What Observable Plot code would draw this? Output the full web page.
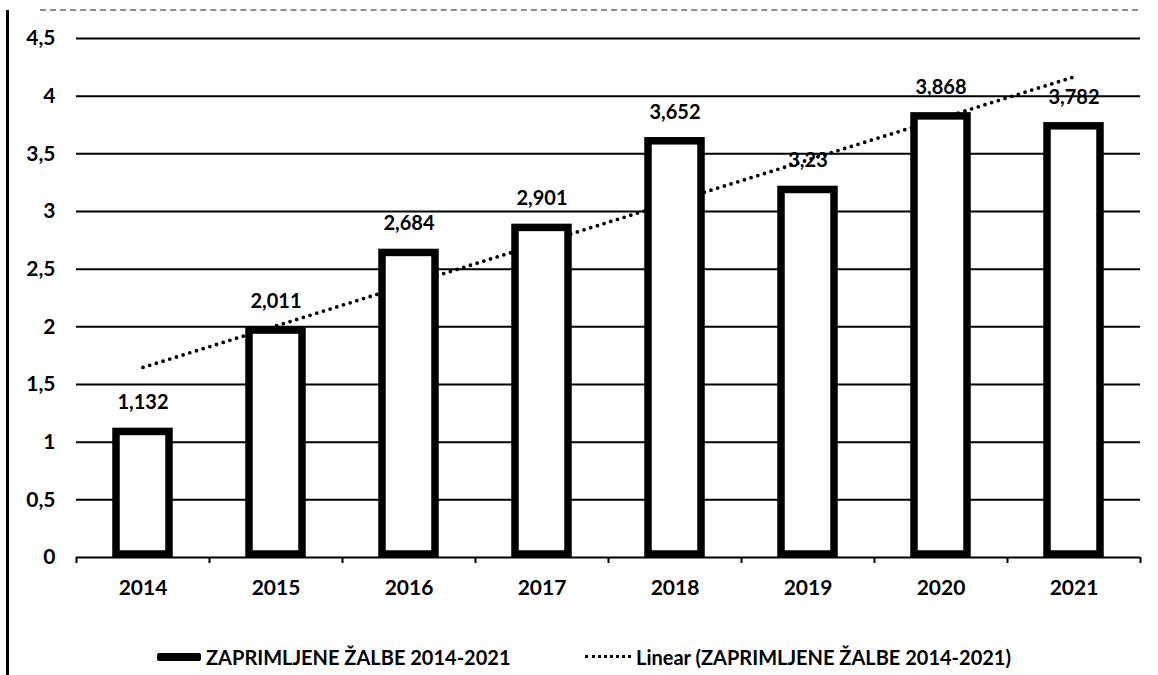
<!DOCTYPE html>
<html><head><meta charset="utf-8">
<script src="https://cdn.jsdelivr.net/npm/d3@7"></script>
<script src="https://cdn.jsdelivr.net/npm/@observablehq/plot@0.6"></script>
<style>
body{margin:0;background:#fff;font-family:Lato,"Open Sans",sans-serif;}
#wrap{position:relative;width:1158px;height:675px;overflow:hidden;background:#fff}
#frame{position:absolute;left:6px;top:10px;bottom:0;width:0;border-left:3px solid #000;}
#topline{position:absolute;left:40px;right:20px;top:9px;height:0;border-top:2px dashed #444;opacity:.6}
#chart{position:absolute;left:0;top:0}
.lg{position:absolute;top:643px;font-weight:700;font-size:20px;line-height:28px;color:#000;white-space:nowrap}
.sw1{position:absolute;top:653px;left:157px;width:44px;height:8px;background:#000;border-radius:2px}
.sw2{position:absolute;top:655px;left:585px;width:46px;height:0;border-top:3px dotted #000}
</style></head>
<body><div id="wrap"><div id="topline"></div><div id="frame"></div><div id="chart"></div>
<div class="sw1"></div><div class="lg" id="lg1" style="left:206px"></div>
<div class="sw2"></div><div class="lg" id="lg2" style="left:636px"></div>
</div>
<script>
const years = ["2014","2015","2016","2017","2018","2019","2020","2021"];
const values = [1.132, 2.011, 2.684, 2.901, 3.652, 3.23, 3.868, 3.782];
const valueLabels = ["1,132","2,011","2,684","2,901","3,652","3,23","3,868","3,782"];
const yTicks = [0, 0.5, 1, 1.5, 2, 2.5, 3, 3.5, 4, 4.5];
const yTickLabels = ["0","0,5","1","1,5","2","2,5","3","3,5","4","4,5"];
const seriesName = "ZAPRIMLJENE ŽALBE 2014-2021";
const trendName = "Linear (ZAPRIMLJENE ŽALBE 2014-2021)";

document.getElementById("lg1").textContent = seriesName;
document.getElementById("lg2").textContent = trendName;

const data = years.map((year, i) => ({year, value: values[i], label: valueLabels[i], i}));
const mx = d3.mean(data, d => d.i), my = d3.mean(values);
const slope = d3.sum(data, d => (d.i - mx) * (d.value - my)) / d3.sum(data, d => (d.i - mx) ** 2);
const intercept = my - slope * mx;
const trend = data.map(d => ({year: d.year, value: intercept + slope * d.i}));

const H = 622;
const chart = Plot.plot({
  width: 1158, height: H,
  marginTop: 38, marginBottom: H - 557, marginLeft: 76, marginRight: 18,
  style: {fontFamily: "Lato, 'Open Sans', sans-serif", fontWeight: 700, fontSize: "20px", color: "#000", background: "transparent"},
  x: {domain: years, paddingInner: 0.598, paddingOuter: 0.299},
  y: {domain: [0, 4.5]},
  marks: [
    Plot.ruleY(yTicks, {stroke: "#000", strokeWidth: 2}),
    Plot.ruleX(years, {x: d => d, y1: 0, y2: 0, insetBottom: -6, dx: -66.5, stroke: "#000", strokeWidth: 2}),
    Plot.ruleX([years[years.length - 1]], {x: d => d, y1: 0, y2: 0, insetBottom: -6, dx: 66.5, stroke: "#000", strokeWidth: 2}),
    Plot.line(trend, {x: "year", y: "value", stroke: "#000", strokeWidth: 3.8, strokeDasharray: "0 7", strokeLinecap: "round"}),
    Plot.barY(data, {x: "year", y: "value", fill: "#fff", stroke: "#000", strokeWidth: 7.5, insetTop: 5, insetBottom: 3}),
    Plot.text(data, {x: "year", y: "value", text: "label", dy: -24, fontSize: 20, fontWeight: 700, fill: "#000"}),
    Plot.axisY(yTicks, {tickSize: 0, tickPadding: 21, tickFormat: d => yTickLabels[yTicks.indexOf(d)], label: null, fontSize: 21, fontWeight: 700}),
    Plot.axisX({tickSize: 0, tickPadding: 23, label: null, fontSize: 21, fontWeight: 700})
  ]
});
document.getElementById("chart").appendChild(chart);
</script>
</body></html>
